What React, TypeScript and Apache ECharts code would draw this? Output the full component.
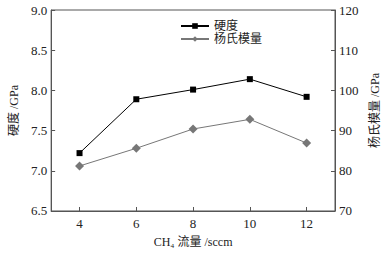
import React, { useEffect, useRef } from "react";
import * as echarts from "echarts";

const flowRates = [4, 6, 8, 10, 12];
const hardness = [7.22, 7.89, 8.01, 8.14, 7.92];
const youngModulus = [81.2, 85.6, 90.4, 92.8, 86.9];
const xTicks = [4, 6, 8, 10, 12];

const FONT = "'Liberation Serif', 'Noto Sans CJK SC', serif";

export default function App() {
  const ref = useRef<HTMLDivElement>(null);
  useEffect(() => {
    if (!ref.current) return;
    const chart = echarts.init(ref.current, undefined, { renderer: "svg" });
    const axisLine = { show: true, lineStyle: { color: "#555", width: 1 } };
    chart.setOption({
      animation: false,
      backgroundColor: "#fff",
      textStyle: { fontFamily: FONT },
      grid: { left: 49, right: 56, top: 10, bottom: 42, show: true, borderColor: "#555", borderWidth: 1 },
      legend: {
        left: 175,
        top: 15,
        orient: "vertical",
        itemGap: 1,
        itemWidth: 28,
        itemHeight: 7,
        textStyle: { fontFamily: FONT, fontSize: 12, color: "#222" },
        data: ["硬度", "杨氏模量"],
      },
      xAxis: {
        type: "value",
        min: 3,
        max: 13,
        name: "CH₄ 流量 /sccm",
        nameLocation: "middle",
        nameGap: 25,
        nameTextStyle: { fontFamily: FONT, fontSize: 12, color: "#222" },
        axisLine,
        axisTick: { show: true, inside: true, length: 4, lineStyle: { color: "#555" }, customValues: xTicks },
        axisLabel: { fontFamily: FONT, fontSize: 13, color: "#222", margin: 6, customValues: xTicks },
        splitLine: { show: false },
      },
      yAxis: [
        {
          type: "value",
          min: 6.5,
          max: 9.0,
          interval: 0.5,
          name: "硬度 /GPa",
          nameLocation: "middle",
          nameRotate: 90,
          nameGap: 29,
          nameTextStyle: { fontFamily: FONT, fontSize: 12, color: "#222" },
          axisLine,
          axisTick: { show: true, inside: true, length: 4, lineStyle: { color: "#555" } },
          axisLabel: { fontFamily: FONT, fontSize: 13, color: "#222", margin: 4, formatter: (v: number) => v.toFixed(1) },
          splitLine: { show: false },
        },
        {
          type: "value",
          min: 70,
          max: 120,
          interval: 10,
          position: "right",
          name: "杨氏模量 /GPa",
          nameLocation: "middle",
          nameRotate: 90,
          nameGap: 34,
          nameTextStyle: { fontFamily: FONT, fontSize: 12, color: "#222" },
          axisLine,
          axisTick: { show: true, inside: true, length: 4, lineStyle: { color: "#555" } },
          axisLabel: { fontFamily: FONT, fontSize: 13, color: "#222", margin: 4 },
          splitLine: { show: false },
        },
      ],
      series: [
        {
          name: "硬度",
          type: "line",
          yAxisIndex: 0,
          data: flowRates.map((x, i) => [x, hardness[i]]),
          symbol: "rect",
          symbolSize: 6,
          itemStyle: { color: "#000" },
          lineStyle: { color: "#000", width: 1 },
        },
        {
          name: "杨氏模量",
          type: "line",
          yAxisIndex: 1,
          data: flowRates.map((x, i) => [x, youngModulus[i]]),
          symbol: "diamond",
          symbolSize: 9,
          itemStyle: { color: "#777" },
          lineStyle: { color: "#777", width: 1 },
        },
      ],
    });
    return () => chart.dispose();
  }, []);
  return <div ref={ref} style={{ width: 391, height: 253, position: "absolute", left: 0, top: 0 }} />;
}
